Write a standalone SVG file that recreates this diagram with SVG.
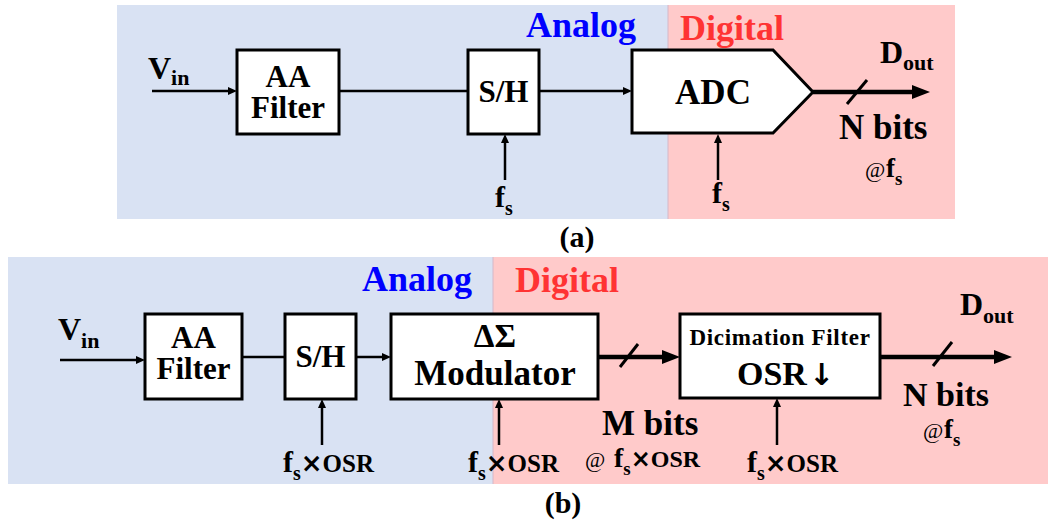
<svg xmlns="http://www.w3.org/2000/svg" width="1048" height="522" viewBox="0 0 1048 522">
<defs>
<style>
.t{font-family:"Liberation Serif","DejaVu Serif",serif;font-weight:bold;fill:#000}
.box{fill:#fff;stroke:#000;stroke-width:3}
.w{stroke:#000;stroke-width:2.5;fill:none}
.k{stroke:#000;stroke-width:4.5;fill:none}
.sl{stroke:#000;stroke-width:3}
.an{fill:#0000FF}
.dg{fill:#FF3333}
.x{font-family:"DejaVu Sans",sans-serif;font-weight:bold}
</style>
<marker id="ah" markerUnits="userSpaceOnUse" markerWidth="9" markerHeight="8" refX="0" refY="4" orient="auto"><path d="M0,0 L9,4 L0,8 z" fill="#000"/></marker>
<marker id="ahb" markerUnits="userSpaceOnUse" markerWidth="18" markerHeight="14" refX="0" refY="7" orient="auto"><path d="M0,0 L18,7 L0,14 z" fill="#000"/></marker>
</defs>
<g id="backgrounds">
<rect x="117" y="5" width="551" height="214" fill="#D9E2F3"/>
<rect x="668" y="5" width="287" height="214" fill="#FFCACA"/>
<rect x="8" y="257" width="485" height="227" fill="#D9E2F3"/>
<rect x="493" y="257" width="555" height="227" fill="#FFCACA"/>
<line x1="668" y1="5" x2="668" y2="219" stroke="#D4B8C8" stroke-width="1"/>
<line x1="493" y1="257" x2="493" y2="484" stroke="#D4B8C8" stroke-width="1"/>
</g>
<g id="region-labels">
<text class="t an" x="636" y="37" font-size="36" text-anchor="end">Analog</text>
<text class="t dg" x="680" y="40" font-size="36">Digital</text>
<text class="t an" x="472" y="291" font-size="36" text-anchor="end">Analog</text>
<text class="t dg" x="515" y="292" font-size="36">Digital</text>
<text class="t" x="577" y="247" font-size="30" text-anchor="middle">(a)</text>
<text class="t" x="563" y="513" font-size="30" text-anchor="middle">(b)</text>
</g>
<g id="connectors">
<line class="w" x1="152" y1="91" x2="228" y2="91" marker-end="url(#ah)"/>
<line class="w" x1="339" y1="91" x2="468" y2="91"/>
<line class="w" x1="539" y1="91" x2="623" y2="91" marker-end="url(#ah)"/>
<line class="w" x1="505" y1="180" x2="505" y2="143" marker-end="url(#ah)"/>
<line class="w" x1="718" y1="180" x2="718" y2="143" marker-end="url(#ah)"/>
<line class="k" x1="813" y1="92" x2="912" y2="92" marker-end="url(#ahb)"/>
<line class="sl" x1="847" y1="104" x2="867" y2="80"/>
<line class="w" x1="60" y1="360" x2="136" y2="360" marker-end="url(#ah)"/>
<line class="w" x1="242" y1="357" x2="285" y2="357"/>
<line class="w" x1="356" y1="357" x2="382" y2="357" marker-end="url(#ah)"/>
<line class="w" x1="322" y1="445" x2="322" y2="408" marker-end="url(#ah)"/>
<line class="w" x1="499" y1="445" x2="499" y2="408" marker-end="url(#ah)"/>
<line class="w" x1="777" y1="445" x2="777" y2="407" marker-end="url(#ah)"/>
<line class="k" x1="598" y1="357" x2="662" y2="357" marker-end="url(#ahb)"/>
<line class="sl" x1="620" y1="367" x2="638" y2="344"/>
<line class="k" x1="880" y1="357" x2="994" y2="357" marker-end="url(#ahb)"/>
<line class="sl" x1="933" y1="366" x2="952" y2="342"/>
</g>
<g id="a-vin"><text class="t" x="148" y="79" font-size="32">V<tspan font-size="22" dy="6">in</tspan></text></g>
<g id="a-aafilter">
<rect class="box" x="237" y="50" width="102" height="84"/>
<text class="t" x="288" y="87" font-size="31" text-anchor="middle">AA</text>
<text class="t" x="288" y="118" font-size="31" text-anchor="middle">Filter</text>
</g>
<g id="a-sh">
<rect class="box" x="468" y="50" width="71" height="84"/>
<text class="t" x="503.5" y="102" font-size="31" text-anchor="middle">S/H</text>
</g>
<g id="a-adc">
<polygon class="box" points="632,50 773,50 813,92 773,133 632,133"/>
<text class="t" x="713" y="104" font-size="35" text-anchor="middle">ADC</text>
</g>
<g id="a-fs1"><text class="t" x="495" y="207" font-size="30">f<tspan font-size="20" dy="8">s</tspan></text></g>
<g id="a-fs2"><text class="t" x="712" y="203" font-size="30">f<tspan font-size="20" dy="8">s</tspan></text></g>
<g id="a-dout"><text class="t" x="880" y="63" font-size="32">D<tspan font-size="22" dy="7">out</tspan></text></g>
<g id="a-nbits">
<text class="t" x="839" y="139" font-size="35">N bits</text>
<text class="t" x="865" y="177" font-size="22"><tspan font-weight="normal">@</tspan><tspan x="886" font-size="27">f</tspan><tspan font-size="19" dy="8">s</tspan></text>
</g>
<g id="b-vin"><text class="t" x="58" y="340" font-size="32">V<tspan font-size="22" dy="8">in</tspan></text></g>
<g id="b-aafilter">
<rect class="box" x="145" y="314" width="97" height="85"/>
<text class="t" x="193.5" y="348" font-size="31" text-anchor="middle">AA</text>
<text class="t" x="193.5" y="379" font-size="31" text-anchor="middle">Filter</text>
</g>
<g id="b-sh">
<rect class="box" x="285" y="314" width="71" height="85"/>
<text class="t" x="320.5" y="367" font-size="31" text-anchor="middle">S/H</text>
</g>
<g id="b-modulator">
<rect class="box" x="391" y="314" width="207" height="85"/>
<text class="t" x="495" y="347" font-size="33" text-anchor="middle">ΔΣ</text>
<text class="t" x="495" y="385" font-size="35" text-anchor="middle">Modulator</text>
</g>
<g id="b-decimation">
<rect class="box" x="680" y="314" width="200" height="84"/>
<text class="t" x="780" y="345" font-size="23" letter-spacing="0.7" text-anchor="middle">Dicimation Filter</text>
<text class="t" x="737" y="385" font-size="34">OSR<tspan class="x" font-size="30" dx="2">↓</tspan></text>
</g>
<g id="b-clk1"><text class="t" x="283" y="472" font-size="30">f<tspan font-size="20" dy="8">s</tspan><tspan class="x" font-size="26" dy="-8">×</tspan><tspan font-size="25">OSR</tspan></text></g>
<g id="b-clk2"><text class="t" x="468" y="472" font-size="30">f<tspan font-size="20" dy="8">s</tspan><tspan class="x" font-size="26" dy="-8">×</tspan><tspan font-size="25">OSR</tspan></text></g>
<g id="b-clk3"><text class="t" x="747" y="472" font-size="30">f<tspan font-size="20" dy="8">s</tspan><tspan class="x" font-size="26" dy="-8">×</tspan><tspan font-size="25">OSR</tspan></text></g>
<g id="b-mbits">
<text class="t" x="602" y="435" font-size="35">M bits</text>
<text class="t" x="585" y="467" font-size="22"><tspan font-weight="normal">@</tspan><tspan x="614" font-size="28">f</tspan><tspan font-size="19" dy="8">s</tspan><tspan class="x" font-size="24" dy="-8">×</tspan><tspan font-size="24">OSR</tspan></text>
</g>
<g id="b-dout"><text class="t" x="960" y="315" font-size="32">D<tspan font-size="22" dy="8">out</tspan></text></g>
<g id="b-nbits">
<text class="t" x="903" y="406" font-size="34">N bits</text>
<text class="t" x="923" y="438" font-size="22"><tspan font-weight="normal">@</tspan><tspan x="944" font-size="27">f</tspan><tspan font-size="19" dy="8">s</tspan></text>
</g>
</svg>
